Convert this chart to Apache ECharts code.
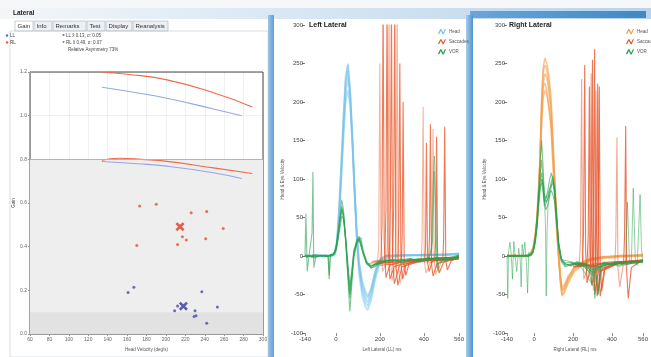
<!DOCTYPE html>
<html><head><meta charset="utf-8">
<script src="https://cdn.jsdelivr.net/npm/echarts@6/dist/echarts.min.js"></script>
<style>html,body{margin:0;padding:0;background:#fff}#c{width:651px;height:357px}</style>
</head><body><div id="c"></div>
<script>
// ---------- Gain panel data ----------
const gainXTicks = [60, 300, 20];
const gainYTicks = [0, 1.2, 0.2];
const rlUpper = [[134,1.2],[160,1.19],[200,1.165],[249,1.105],[289,1.04]];
const llUpper = [[134,1.13],[170,1.105],[201,1.08],[249,1.031],[278,1.0]];
const rlLower = [[134,0.796],[152,0.805],[175,0.8],[201,0.791],[249,0.761],[289,0.735]];
const llLower = [[134,0.79],[170,0.78],[201,0.769],[249,0.739],[278,0.712]];
const rlPoints = [[173,0.587],[190,0.594],[226,0.556],[242,0.561],[259,0.483],[217,0.446],[221,0.431],[212,0.41],[241,0.436],[170,0.406]];
const llPoints = [[161,0.191],[167,0.215],[237,0.194],[212,0.129],[209,0.107],[230,0.107],[229,0.081],[231,0.084],[253,0.124],[242,0.05]];
const rlMean = [[214.5,0.492]];
const llMean = [[218,0.128]];

// ---------- Impulse panels: tick labels ----------
const timeTicks = [-140, 0, 200, 400, 560];

// ---------- Left Lateral: head traces ----------
const tHeadL = [-140,-100,-60,-20,-5,5,15,25,35,45,55,65,75,85,95,105,120,135,145,160,180,200,230,300,400,500,560];
const headL = [
  [0,1,0,0,3,15,55,110,170,225,250,220,160,90,28,-15,-45,-60,-65,-52,-25,-8,0,1,2,1,3],
  [1,0,1,1,5,20,65,125,185,235,248,210,150,80,20,-22,-52,-66,-70,-58,-30,-10,-2,1,1,2,4],
  [0,0,1,0,2,12,48,100,158,210,232,205,150,85,30,-10,-40,-55,-60,-48,-22,-6,0,2,1,2,2],
  [0,1,1,0,4,18,60,118,178,228,240,212,158,92,34,-8,-36,-50,-55,-44,-20,-5,1,0,2,3,3],
  [1,0,0,1,3,14,52,104,160,200,215,195,148,88,32,-6,-32,-46,-52,-42,-18,-4,1,1,1,2,2]
];
// ---------- Left Lateral: VOR traces ----------
const tVorL = [-140,-136,-130,-122,-115,-108,-104,-100,-90,-70,-50,-35,-30,-25,-10,0,10,20,27,35,45,55,64,72,82,95,105,114,125,140,160,177,200,230,260,300,340,380,420,460,500,530,560];
const vorL = [
  [0,55,-20,0,2,30,109,-15,0,1,0,0,-30,2,3,10,30,55,73,60,20,-30,-72,-40,0,20,26,25,5,-10,-15,-14,-10,-6,-5,-8,-4,-6,-3,-4,-2,-5,-1],
  [0,2,-1,0,1,-2,0,1,-1,0,1,0,-2,1,2,8,25,45,60,52,20,-15,-45,-25,5,18,22,20,4,-8,-12,-12,-9,-5,-7,-5,-3,-8,-4,-2,-6,-3,0],
  [1,0,0,-2,0,1,-1,0,2,0,-1,1,0,0,3,10,28,50,65,55,25,-10,-38,-20,8,20,24,18,2,-10,-14,-10,-8,-6,-4,-9,-5,-3,-6,-2,-3,-4,2],
  [0,-1,1,0,-1,0,2,-3,0,1,0,-1,1,2,1,6,20,38,52,48,22,-20,-55,-30,-2,15,20,24,6,-6,-16,-12,-6,-8,-6,-4,-7,-5,-2,-5,-4,-1,1],
  [0,1,-2,1,0,-1,0,2,-1,0,1,-1,-25,0,2,9,26,48,62,50,18,-22,-50,-28,4,17,22,20,3,-9,-13,-11,-7,-6,-5,-6,-4,-5,-3,-4,-2,-3,0]
];
const vorLExtra = [
  [[380,-5],[420,-4],[436,10],[442,90],[448,130],[454,70],[460,-15],[470,-8],[500,-4],[560,-2]],
  [[380,-6],[425,-3],[440,20],[447,110],[452,60],[458,-10],[465,-20],[480,-6],[560,-3]]
];
// ---------- Left Lateral: saccade traces ----------
const sacL = [
  [[150,-10],[188,-8],[195,10],[200,250],[205,30],[212,-20],[228,-10],[300,-6],[560,-3]],
  [[160,-8],[205,-6],[210,40],[215,330],[220,20],[228,-28],[245,-12],[320,-5],[560,-2]],
  [[170,-12],[222,-8],[228,60],[233,330],[238,10],[246,-30],[265,-14],[340,-6],[560,-4]],
  [[170,-6],[232,-5],[237,50],[242,330],[247,0],[256,-32],[275,-10],[380,-4],[560,-2]],
  [[180,-10],[243,-8],[248,70],[253,330],[258,-5],[266,-36],[290,-12],[380,-6],[560,-3]],
  [[190,-8],[258,-6],[263,60],[268,330],[273,-10],[282,-38],[300,-14],[400,-5],[560,-2]],
  [[200,-10],[270,-8],[274,50],[279,330],[284,-12],[292,-35],[312,-12],[400,-6],[560,-3]],
  [[200,-12],[282,-10],[286,40],[291,250],[296,-10],[304,-30],[320,-10],[420,-4],[560,-2]],
  [[210,-8],[298,-8],[302,30],[306,200],[311,-10],[318,-25],[335,-8],[440,-3],[560,-1]],
  [[300,-6],[388,-5],[392,20],[397,194],[402,-5],[410,-22],[430,-8],[500,-4],[560,-2]],
  [[320,-8],[404,-6],[408,15],[412,147],[417,-8],[424,-20],[440,-6],[520,-3],[560,-2]],
  [[330,-5],[422,-6],[426,25],[430,171],[435,-10],[442,-26],[460,-10],[530,-4],[560,-1]],
  [[340,-7],[434,-8],[438,20],[442,165],[447,-5],[454,-24],[470,-8],[530,-3],[560,-2]],
  [[350,-6],[450,-6],[454,22],[458,155],[463,-8],[470,-22],[490,-8],[540,-4],[560,-3]],
  [[360,-5],[486,-6],[490,20],[495,168],[500,-6],[507,-18],[525,-6],[560,-2]]
];

// ---------- Right Lateral: head traces ----------
const tHeadR = [-140,-100,-60,-30,-18,-5,5,14,22,30,38,46,55,65,75,87,95,102,110,119,127,135,143,155,175,207,250,287,350,450,560];
const headR = [
  [0,0,1,0,3,10,25,45,80,122,200,245,257,250,235,205,160,122,80,37,0,-30,-50,-45,-32,-18,-10,-5,-2,0,1],
  [1,0,0,1,2,8,20,38,70,110,180,225,237,232,215,185,145,110,70,30,-5,-35,-52,-48,-35,-20,-12,-6,-3,-1,0],
  [0,1,0,0,4,12,28,50,88,130,190,220,225,215,195,165,125,92,58,22,-8,-32,-45,-42,-28,-15,-8,-4,-1,0,2],
  [0,0,0,1,2,9,22,40,75,115,170,205,215,210,195,170,135,100,62,26,-4,-25,-40,-38,-26,-14,-7,-3,-2,1,0],
  [1,1,0,0,3,11,26,46,82,125,195,238,248,242,225,195,150,115,75,34,-2,-28,-44,-40,-30,-16,-9,-5,-1,0,1]
];
// ---------- Right Lateral: VOR traces ----------
const tVorR = [-140,-100,-60,-30,-15,-5,5,15,25,32,38,45,52,60,70,80,88,96,105,115,125,140,160,190,220,260,300,330,360,400,440,480,520,560];
const vorR = [
  [0,1,-1,0,2,8,22,50,95,130,150,120,80,75,85,100,108,109,90,55,20,-5,-12,-10,-8,-12,-20,-15,-10,-12,-8,-10,-6,-8],
  [-1,0,1,1,3,6,18,42,80,100,108,90,70,72,80,88,92,95,80,50,18,-6,-10,-12,-10,-14,-25,-18,-12,-9,-10,-7,-9,-5],
  [1,-1,0,2,1,7,20,45,78,92,95,85,65,68,75,82,85,80,70,42,12,-8,-14,-11,-9,-10,-18,-14,-11,-10,-12,-8,-7,-9],
  [0,0,1,-1,2,5,16,38,70,88,100,92,72,60,66,78,90,100,85,48,15,-4,-11,-13,-7,-11,-22,-16,-9,-11,-9,-11,-8,-6],
  [0,1,0,1,3,9,24,52,85,110,125,100,78,70,74,86,96,104,88,52,18,-3,-9,-8,-11,-9,-16,-12,-8,-10,-7,-9,-10,-7]
];
const vorRExtra = [
  [[-140,0],[-136,-55],[-132,5],[-125,18],[-118,2],[-112,-30],[-105,19],[-98,0],[-90,-20],[-80,10],[-72,-5],[-67,-40],[-62,15],[-55,2],[-48,18],[-40,-10],[-34,-48],[-28,5],[-20,0],[-10,2],[0,5]],
  [[40,100],[50,90],[58,40],[62,-52],[66,30],[72,70],[80,80]],
  [[200,-10],[250,-12],[280,-20],[295,-35],[305,-10],[312,-55],[320,-25],[330,-50],[340,-15],[360,-12],[400,-10],[440,-14],[470,-8],[480,70],[490,-5],[500,-10],[510,88],[520,-2],[530,-12],[545,80],[552,10],[558,-6],[560,-8]],
  [[150,-5],[200,-8],[240,-14],[270,-25],[300,-38],[315,-20],[330,-45],[345,-18],[380,-10],[420,-8],[460,-12],[500,-6],[530,-9],[560,-5]]
];
// ---------- Right Lateral: saccade traces ----------
const sacR = [
  [[180,-12],[232,-10],[238,20],[244,230],[249,10],[256,-30],[275,-15],[360,-8],[560,-6]],
  [[190,-10],[248,-10],[254,30],[260,248],[265,5],[272,-35],[290,-14],[380,-8],[560,-5]],
  [[200,-14],[272,-10],[278,25],[284,220],[289,-5],[296,-38],[315,-16],[400,-9],[560,-6]],
  [[200,-12],[281,-10],[287,40],[293,237],[298,-10],[305,-45],[322,-18],[400,-10],[560,-5]],
  [[210,-10],[290,-12],[295,50],[300,255],[305,0],[312,-50],[330,-20],[420,-8],[560,-6]],
  [[210,-14],[299,-12],[305,60],[311,269],[316,-10],[324,-52],[340,-20],[420,-10],[560,-7]],
  [[220,-12],[307,-12],[312,30],[318,215],[323,-8],[330,-48],[350,-16],[440,-8],[560,-5]],
  [[220,-10],[315,-12],[321,40],[327,224],[332,-12],[340,-52],[360,-18],[440,-9],[560,-6]],
  [[230,-12],[324,-14],[329,30],[335,220],[340,-15],[348,-45],[365,-15],[450,-8],[560,-5]],
  [[300,-10],[415,-10],[420,20],[426,154],[431,-15],[440,-40],[458,-12],[520,-8],[560,-6]],
  [[320,-10],[460,-10],[465,25],[471,169],[476,-20],[484,-55],[500,-15],[540,-8],[560,-6]]
];

// ---------- build ----------
const FONT = 'Liberation Sans, Arial, sans-serif';
const C = {
  headL: '#74c3ea', sacL: '#e9582a', vor: '#26a04c',
  headR: '#f4a04c', sacR: '#e6542a',
  rl: '#ef6a4e', ll: '#93a8e4', rlDot: '#e6502e', llDot: '#4a4ca6'
};
const zip = (t, v) => t.map((x, i) => [x, v[i]]);
const series = [];
function trace(name, data, grid, color, width, opacity, z) {
  series.push({
    type: 'line', name, xAxisIndex: grid, yAxisIndex: grid, data,
    showSymbol: false, symbol: 'none', silent: true, z: z,
    lineStyle: { color, width, opacity }, itemStyle: { color }
  });
}
function gline(data, color, extra) {
  series.push(Object.assign({
    type: 'line', xAxisIndex: 0, yAxisIndex: 0, data, smooth: true,
    showSymbol: false, symbol: 'none', silent: true,
    lineStyle: { color, width: 1.1 }, itemStyle: { color }, z: 3
  }, extra || {}));
}
gline(rlUpper, C.rl, {
  markArea: { silent: true, data: [
    [{ yAxis: 0, itemStyle: { color: '#eeeeee' } }, { yAxis: 0.8 }],
    [{ yAxis: 0, itemStyle: { color: '#e2e2e2' } }, { yAxis: 0.1 }]
  ] },
  markLine: { silent: true, symbol: 'none', label: { show: false },
    lineStyle: { color: '#b4b4b4', type: 'solid', width: 1 }, data: [{ yAxis: 0.8 }] }
});
gline(llUpper, C.ll);
gline(rlLower, C.rl);
gline(llLower, C.ll);
series.push({ type: 'scatter', xAxisIndex: 0, yAxisIndex: 0, data: rlPoints, symbolSize: 3, itemStyle: { color: C.rlDot }, silent: true, z: 4 });
series.push({ type: 'scatter', xAxisIndex: 0, yAxisIndex: 0, data: llPoints, symbolSize: 3, itemStyle: { color: C.llDot }, silent: true, z: 4 });
const XPATH = 'path://M0,2 L2,0 L5,3 L8,0 L10,2 L7,5 L10,8 L8,10 L5,7 L2,10 L0,8 L3,5 Z';
series.push({ type: 'scatter', xAxisIndex: 0, yAxisIndex: 0, data: rlMean, symbol: XPATH, symbolSize: 9, itemStyle: { color: '#e2361e' }, silent: true, z: 5 });
series.push({ type: 'scatter', xAxisIndex: 0, yAxisIndex: 0, data: llMean, symbol: XPATH, symbolSize: 9, itemStyle: { color: '#34389c' }, silent: true, z: 5 });

headL.forEach(v => trace('Head', zip(tHeadL, v), 1, C.headL, 1.7, 0.5, 2));
sacL.forEach((d, i) => trace('Saccades', d, 1, C.sacL, 1.1, i % 3 === 0 ? 0.45 : 0.8, 3));
vorL.forEach(v => trace('VOR', zip(tVorL, v), 1, C.vor, 1.1, 0.6, 4));
vorLExtra.forEach(d => trace('VOR', d, 1, C.vor, 1, 0.45, 4));
headR.forEach(v => trace('Head ', zip(tHeadR, v), 2, C.headR, 1.6, 0.6, 2));
sacR.forEach((d, i) => trace('Saccades ', d, 2, C.sacR, 1.1, i % 3 === 0 ? 0.5 : 0.8, 3));
vorR.forEach(v => trace('VOR ', zip(tVorR, v), 2, C.vor, 1.1, 0.6, 4));
vorRExtra.forEach(d => trace('VOR ', d, 2, C.vor, 1, 0.5, 4));

const smallLabel = { fontSize: 5, color: '#666', fontFamily: FONT };
const waveIcon = 'path://M0,9 L4,1 L6,1 L9,7 L12,1 L14,1 L10,10 L8,10 L5,4 L2,10 Z';
function traceAxisX(grid, name) {
  return {
    type: 'value', gridIndex: grid, min: timeTicks[0], max: timeTicks[timeTicks.length - 1],
    axisLine: { show: false, onZero: false }, splitLine: { show: false },
    axisTick: { show: true, customValues: timeTicks, length: 3, lineStyle: { color: '#888' } },
    axisLabel: { customValues: timeTicks, fontSize: 6, color: '#444', margin: 3, fontFamily: FONT, showMinLabel: true, showMaxLabel: true },
    name, nameLocation: 'middle', nameGap: 12, nameTextStyle: { fontSize: 4.5, color: '#555', fontFamily: FONT }
  };
}
function traceAxisY(grid) {
  return {
    type: 'value', gridIndex: grid, min: -100, max: 300, interval: 50,
    axisLine: { show: false, onZero: false }, splitLine: { show: false },
    axisTick: { show: true, length: 3, lineStyle: { color: '#777' } },
    axisLabel: { fontSize: 6, color: '#444', margin: 2, fontFamily: FONT },
    name: 'Head & Eye Velocity', nameLocation: 'middle', nameGap: 20,
    nameTextStyle: { fontSize: 4.5, color: '#555', fontFamily: FONT }
  };
}

const gfx = [];
function rect(x, y, w, h, style, z) { gfx.push({ type: 'rect', shape: { x, y, width: w, height: h }, style, z: z || 0, silent: true }); }
function text(x, y, s, font, fill) { gfx.push({ type: 'text', x, y, style: { text: s, font, fill: fill || '#333' }, z: 10, silent: true }); }
const hgrad = (a, b) => ({ type: 'linear', x: 0, y: 0, x2: 1, y2: 0, colorStops: [{ offset: 0, color: a }, { offset: 1, color: b }] });

rect(0, 0, 651, 8, { fill: '#f6f7f8' }, -5);
rect(0, 8, 651, 11, { fill: hgrad('#f4f6f8', '#b7d4ec') }, -5);
rect(470, 11, 176, 7, { fill: hgrad('#6aa6d8', '#3f88c6') }, -4);
rect(268, 15, 6, 342, { fill: hgrad('#9cc6e8', '#5f9ed4') }, -4);
rect(466, 15, 7, 342, { fill: hgrad('#a8cdea', '#4f93cf') }, -4);
text(13, 10, 'Lateral', 'bold 6.5px ' + FONT, '#222');
const tabs = [['Gain', 15, 18], ['Info', 34, 18], ['Remarks', 53, 33], ['Test', 87, 18], ['Display', 106, 26], ['Reanalysis', 133, 35]];
tabs.forEach((t, i) => {
  rect(t[1], 21, t[2], 10, { fill: i === 0 ? '#ffffff' : '#eceff3', stroke: '#a9b1bb', lineWidth: 0.6 }, 1);
  text(t[1] + 2.5, 23, t[0], '6px ' + FONT, '#333');
});
rect(10, 31, 258, 326, { fill: 'none', stroke: '#c4c8ce', lineWidth: 0.6 }, 1);
gfx.push({ type: 'circle', shape: { cx: 7, cy: 35.5, r: 1.2 }, style: { fill: '#5070c8' }, z: 10, silent: true });
gfx.push({ type: 'circle', shape: { cx: 7, cy: 42.5, r: 1.2 }, style: { fill: '#e8602e' }, z: 10, silent: true });
text(10, 33, 'LL', '4.5px ' + FONT, '#444');
text(10, 40, 'RL', '4.5px ' + FONT, '#444');
gfx.push({ type: 'circle', shape: { cx: 63.5, cy: 35, r: 1 }, style: { fill: '#5070c8' }, z: 10, silent: true });
gfx.push({ type: 'circle', shape: { cx: 63.5, cy: 42, r: 1 }, style: { fill: '#e8602e' }, z: 10, silent: true });
text(66, 33, 'LL x\u0304 0.13, \u03c3: 0.05', '4.5px ' + FONT, '#444');
text(66, 40, 'RL x\u0304 0.49, \u03c3: 0.07', '4.5px ' + FONT, '#444');
text(68, 47, 'Relative Asymmetry 73%', '4.5px ' + FONT, '#444');
text(309, 22, 'Left Lateral', 'bold 7px ' + FONT, '#222');
text(509, 22, 'Right Lateral', 'bold 7px ' + FONT, '#222');

const option = {
  animation: false,
  backgroundColor: '#ffffff',
  textStyle: { fontFamily: FONT },
  graphic: { elements: gfx },
  grid: [
    { left: 30, top: 72, width: 233, height: 271, show: true, borderColor: '#4a4a4a', borderWidth: 1, backgroundColor: 'transparent' },
    { left: 305, top: 25, width: 154, height: 313 },
    { left: 507, top: 25, width: 146, height: 313 }
  ],
  xAxis: [
    { type: 'value', gridIndex: 0, min: gainXTicks[0], max: gainXTicks[1], interval: gainXTicks[2],
      axisLine: { show: true, onZero: false, lineStyle: { color: '#999' } },
      axisTick: { show: true, length: 2, lineStyle: { color: '#999' } },
      axisLabel: Object.assign({ margin: 3 }, smallLabel),
      splitLine: { show: true, lineStyle: { color: 'rgba(0,0,0,0.06)', width: 1 } },
      name: 'Head Velocity (deg/s)', nameLocation: 'middle', nameGap: 10,
      nameTextStyle: { fontSize: 4.5, color: '#555', fontFamily: FONT } },
    traceAxisX(1, 'Left Lateral (LL) ms'),
    traceAxisX(2, 'Right Lateral (RL) ms')
  ],
  yAxis: [
    { type: 'value', gridIndex: 0, min: gainYTicks[0], max: gainYTicks[1], interval: gainYTicks[2],
      axisLine: { show: true, onZero: false, lineStyle: { color: '#999' } },
      axisTick: { show: true, length: 2, lineStyle: { color: '#999' } },
      axisLabel: Object.assign({ margin: 3, formatter: v => v.toFixed(1) }, smallLabel),
      splitLine: { show: true, lineStyle: { color: 'rgba(0,0,0,0.05)', width: 1 } },
      name: 'Gain', nameLocation: 'middle', nameGap: 13,
      nameTextStyle: { fontSize: 4.5, color: '#555', fontFamily: FONT } },
    traceAxisY(1),
    traceAxisY(2)
  ],
  legend: [
    { data: ['Head', 'Saccades', 'VOR'], left: 433, top: 24, orient: 'vertical', itemGap: 5,
      itemWidth: 8, itemHeight: 6, icon: waveIcon, selectedMode: false,
      textStyle: { fontSize: 4.5, color: '#555', fontFamily: FONT, padding: [0, 0, 0, -2] } },
    { data: ['Head ', 'Saccades ', 'VOR '], left: 621, top: 24, orient: 'vertical', itemGap: 5,
      itemWidth: 8, itemHeight: 6, icon: waveIcon, selectedMode: false,
      textStyle: { fontSize: 4.5, color: '#555', fontFamily: FONT, padding: [0, 0, 0, -2] } }
  ],
  series
};
const chart = echarts.init(document.getElementById('c'), null, { renderer: 'canvas' });
chart.setOption(option);
</script>
</body></html>
